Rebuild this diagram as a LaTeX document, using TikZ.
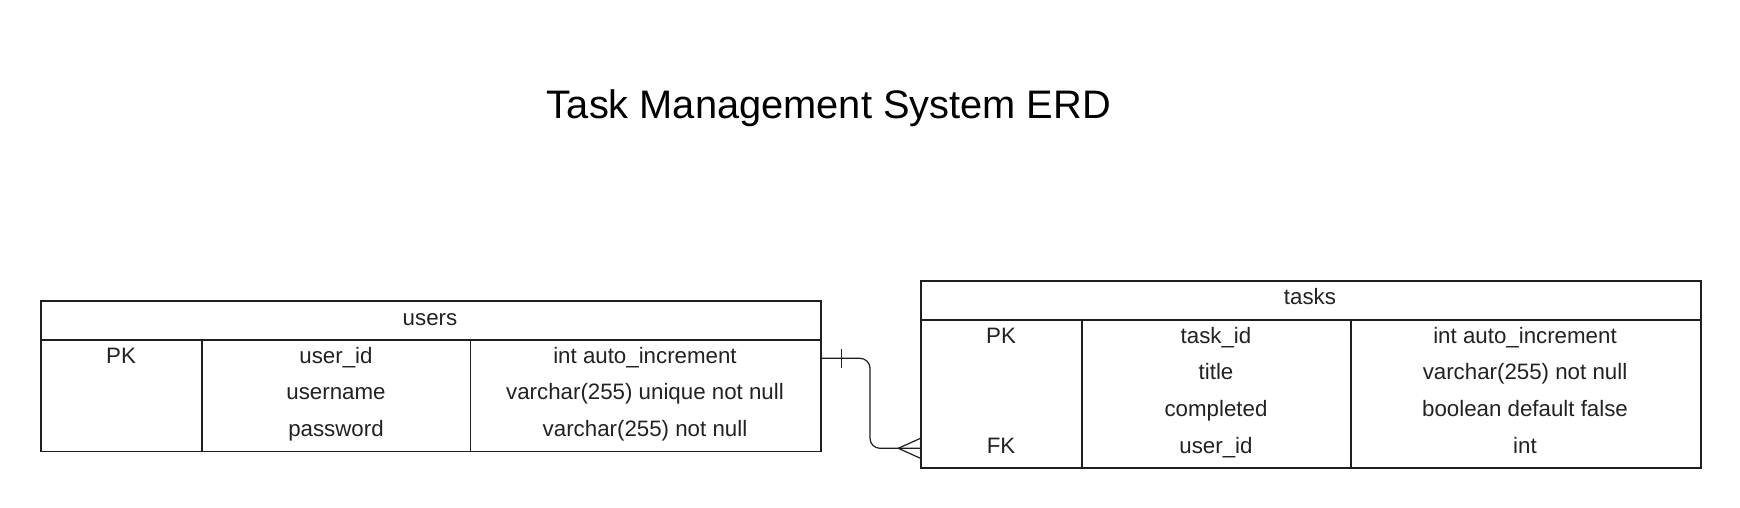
\documentclass[tikz,border=0pt]{standalone}
\usepackage{fontspec}
\setmainfont{Liberation Sans}
\definecolor{txt}{HTML}{222222}
\definecolor{bord}{HTML}{1E1E1E}
\begin{document}
\begin{tikzpicture}[x=1pt,y=-1pt,
  tbl/.style={draw=bord,line width=1.8pt,minimum width=780pt,anchor=north west,inner sep=0pt},
  grid/.style={draw=bord,line width=1.8pt},
  cell/.style={anchor=base,inner sep=0pt,text=txt,font=\fontsize{22.3}{26}\selectfont},
  ttl/.style={anchor=base,inner sep=0pt,text=black,font=\fontsize{39.8}{45}\selectfont},
  rel/.style={draw=bord,line width=1.2pt}]
\useasboundingbox (0,0) rectangle (1740,507);
\fill[white] (0,0) rectangle (1740,507);

\node[ttl] (title) at (829,118) {Task Management System ERD};

% users table
\node[tbl,minimum height=150.5pt] (users) at (40,300) {};
\draw[grid] (40,340) -- (820,340);
\draw[grid] (202,340) -- (202,450.5);
\draw[grid] (470.5,340) -- (470.5,450.5);
\node[cell] (uh) at (430,325) {users};
\node[cell] (u1a) at (121,363) {PK};
\node[cell] (u1b) at (336,363) {user\_id};
\node[cell] (u1c) at (645,363) {int auto\_increment};
\node[cell] (u2b) at (336,399.7) {username};
\node[cell] (u2c) at (645,399.7) {varchar(255) unique not null};
\node[cell] (u3b) at (336,436.3) {password};
\node[cell] (u3c) at (645,436.3) {varchar(255) not null};

% tasks table
\node[tbl,minimum height=187pt] (tasks) at (920,280) {};
\draw[grid] (920,320) -- (1700,320);
\draw[grid] (1081.7,320) -- (1081.7,467);
\draw[grid] (1350.7,320) -- (1350.7,467);
\node[cell] (th) at (1310,304.5) {tasks};
\node[cell] (t1a) at (1001,343) {PK};
\node[cell] (t1b) at (1216,343) {task\_id};
\node[cell] (t1c) at (1525,343) {int auto\_increment};
\node[cell] (t2b) at (1216,379.7) {title};
\node[cell] (t2c) at (1525,379.7) {varchar(255) not null};
\node[cell] (t3b) at (1216,416.3) {completed};
\node[cell] (t3c) at (1525,416.3) {boolean default false};
\node[cell] (t4a) at (1001,453) {FK};
\node[cell] (t4b) at (1216,453) {user\_id};
\node[cell] (t4c) at (1525,453) {int};

% relationship
\coordinate (from) at (users.north east |- 0,358.3);
\coordinate (to) at (tasks.north west |- 0,448.3);
\coordinate (bend1) at (870,358.3);
\coordinate (bend2) at (870,448.3);
\draw[rel,rounded corners=10pt] (from) -- (bend1) -- (bend2) -- (to);
\draw[rel] (841.7,349) -- (841.7,368);
\coordinate (apex) at (898.3,448.3);
\draw[rel] (apex) -- (920,438.5);
\draw[rel] (apex) -- (920,458.1);
\end{tikzpicture}
\end{document}
